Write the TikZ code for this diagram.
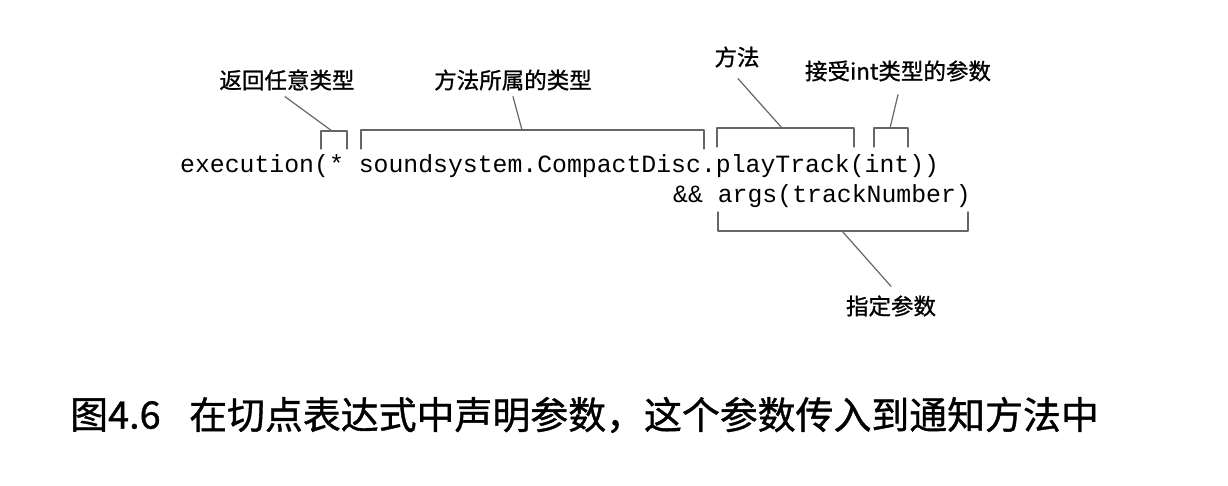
\documentclass[tikz,border=0pt]{standalone}
\usepackage{fontspec}
\setmonofont{Liberation Mono}
\newfontfamily\cjk[FakeBold=1]{Noto Sans CJK SC}
\begin{document}
\begin{tikzpicture}[x=1pt, y=1pt, line join=round, line cap=round,
  brk/.style={draw=black!60, line width=1.2pt},
  lead/.style={draw=black!60, line width=1.2pt},
  code/.style={inner sep=0pt, anchor=base west, font=\fontsize{24.8}{30}\selectfont\ttfamily},
  lbl/.style={inner sep=0pt, font=\fontsize{22.5}{26}\selectfont\cjk},
  captext/.style={inner sep=0pt, anchor=west, font=\fontsize{37.9}{40}\selectfont\cjk}]
\useasboundingbox (0,0) rectangle (1228,-486);
% code lines
\node[code] (l1) at (180,-173) {execution(* soundsystem.CompactDisc.playTrack(int))};
\node[code] (l2) at (673,-203) {\&\& args(trackNumber)};
% brackets
\draw[brk] (321,-149) -- (321,-131) -- (347,-131) -- (347,-149);
\draw[brk] (361,-149) -- (361,-130) -- (704,-130) -- (704,-149);
\draw[brk] (717,-147) -- (717,-128) -- (854,-128) -- (854,-147);
\draw[brk] (874,-147) -- (874,-128) -- (908,-128) -- (908,-147);
\draw[brk] (718,-212) -- (718,-231) -- (968,-231) -- (968,-212);
\coordinate (b1) at (332,-131);
\coordinate (b2) at (522,-130);
\coordinate (b3) at (782,-128);
\coordinate (b4) at (890,-128);
\coordinate (b5) at (842,-231);
% labels
\node[lbl] (t1) at (287,-80) {返回任意类型};
\node[lbl] (t2) at (513,-80) {方法所属的类型};
\node[lbl] (t3) at (737,-57) {方法};
\node[lbl] (t4) at (898,-71) {接受int类型的参数};
\node[lbl] (t5) at (891,-306) {指定参数};
\draw[lead] ([xshift=-2pt,yshift=-6pt]t1.south) -- (b1);
\draw[lead] ([yshift=-6pt]t2.south) -- (b2);
\draw[lead] ([xshift=1pt,yshift=-11pt]t3.south) -- (b3);
\draw[lead] ([yshift=-13pt]t4.south) -- (b4);
\draw[lead] ([yshift=9pt]t5.north) -- (b5);
% caption
\node[captext] (fig) at (70,-415) {图4.6};
\node[captext] (captxt) at (189,-415) {在切点表达式中声明参数，这个参数传入到通知方法中};
\end{tikzpicture}
\end{document}
